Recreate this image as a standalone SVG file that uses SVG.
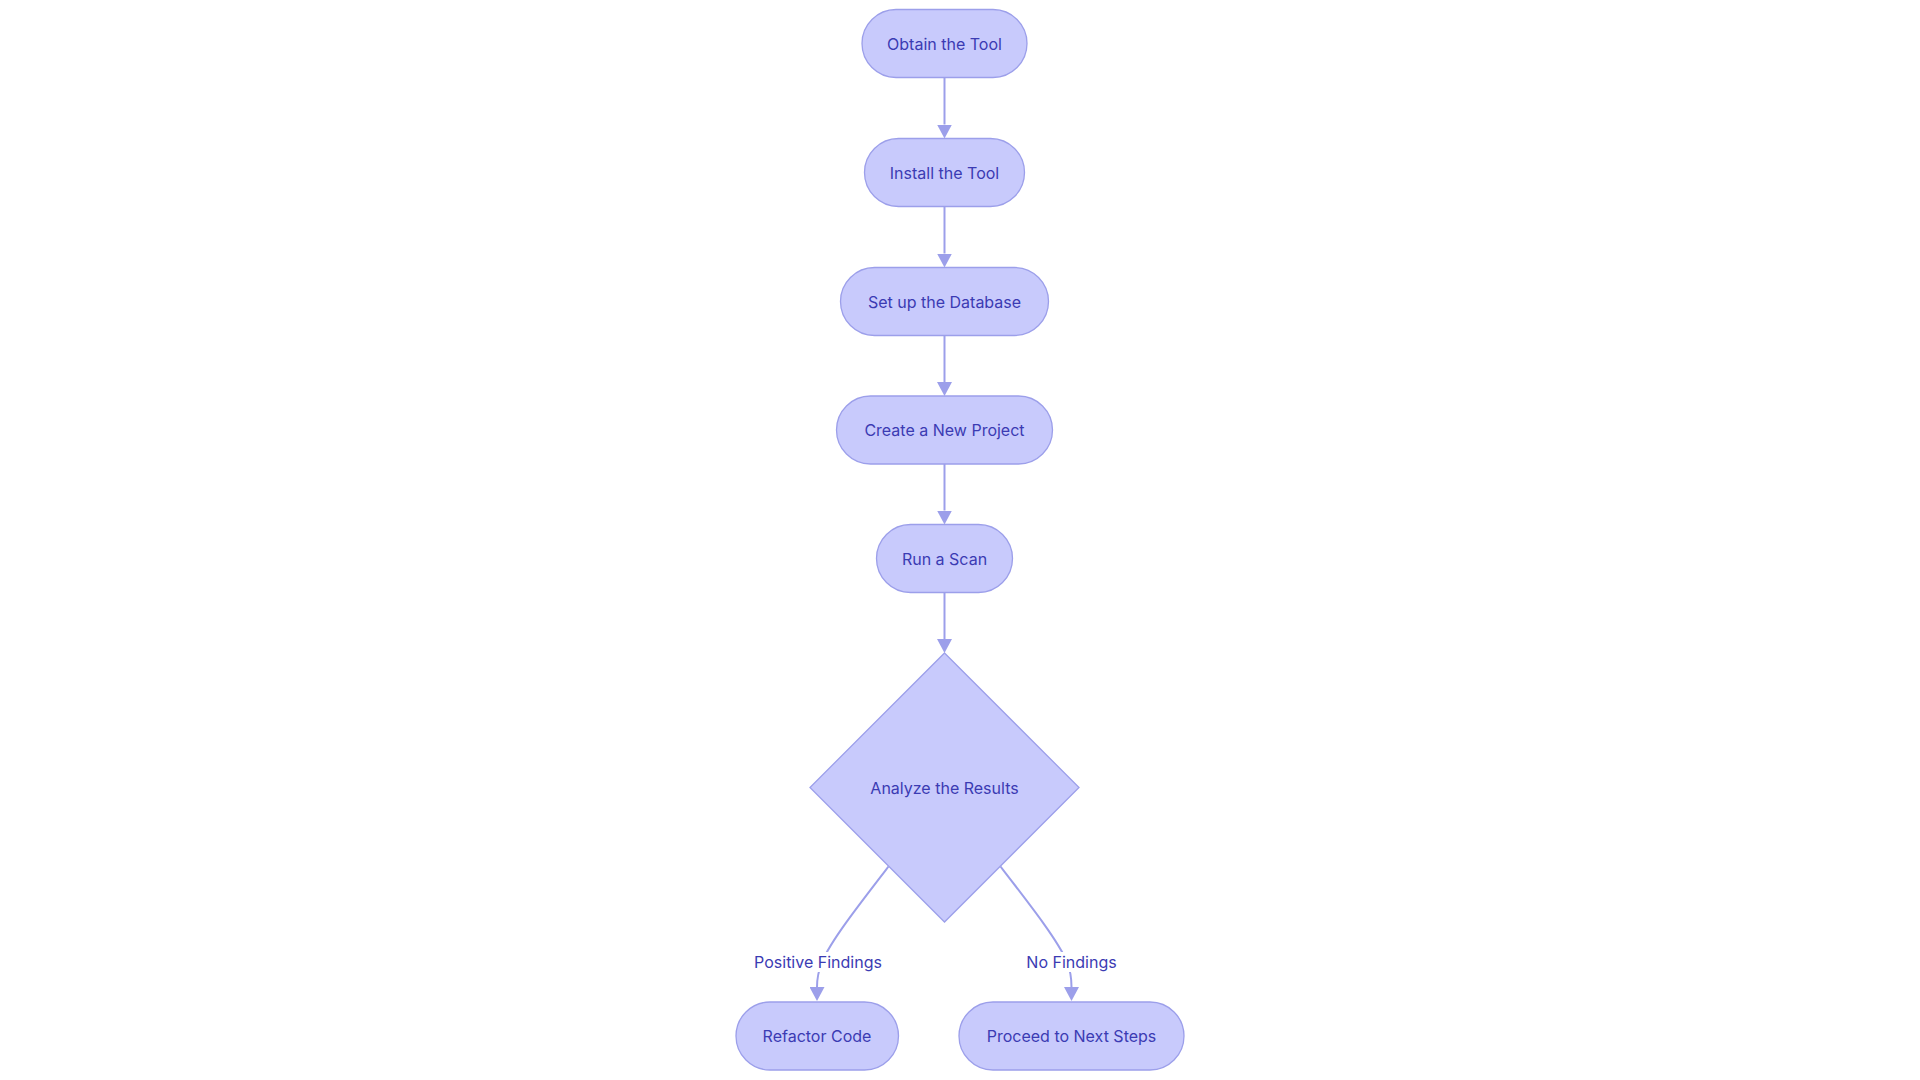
<svg xmlns="http://www.w3.org/2000/svg" width="1920" height="1080" viewBox="0 0 1920 1080">
<style>
.node{fill:#C8CAFC;stroke:#9C9FEA;stroke-width:1.3}
.lbl{font-family:Inter,"Noto Sans","Liberation Sans",sans-serif;font-size:16px;fill:#3B3BB3;text-anchor:middle;dominant-baseline:central}
.edge{fill:none;stroke:#9C9FEA;stroke-width:2}
.elbg{fill:#FFFFFF}
</style>
<defs>
<marker id="arr" viewBox="0 0 14 15" markerWidth="14" markerHeight="15" refX="0" refY="7.5" orient="auto" markerUnits="userSpaceOnUse">
<path d="M0,0 L14,7.5 L0,15 z" fill="#9C9FEA"/>
</marker>
</defs>
<rect width="1920" height="1080" fill="#FFFFFF"/>
<g id="connectors">
<path class="edge" d="M944.5,77.5 V124.5" marker-end="url(#arr)"/>
<path class="edge" d="M944.5,206.5 V253.5" marker-end="url(#arr)"/>
<path class="edge" d="M944.5,335.5 V382" marker-end="url(#arr)"/>
<path class="edge" d="M944.5,463.5 V510.5" marker-end="url(#arr)"/>
<path class="edge" d="M944.5,592.5 V639" marker-end="url(#arr)"/>
<path class="edge" d="M888.5,866.5 C858,906 830,942 822,962 C818,972 817,980 817,987" marker-end="url(#arr)"/>
<path class="edge" d="M1000.5,866.5 C1031,906 1059,942 1067,962 C1071,972 1071.5,980 1071.5,987" marker-end="url(#arr)"/>
<g id="label-positive">
<rect class="elbg" x="754" y="952" width="128" height="20"/>
<text class="lbl" x="818" y="962">Positive Findings</text>
</g>
<g id="label-nofindings">
<rect class="elbg" x="1027" y="952" width="89" height="20"/>
<text class="lbl" x="1071.5" y="962">No Findings</text>
</g>
</g>
<g id="obtain">
<rect class="node" x="862" y="9.5" width="165" height="68" rx="34" ry="34"/>
<text class="lbl" x="944.5" y="43.5">Obtain the Tool</text>
</g>
<g id="install">
<rect class="node" x="864.5" y="138.5" width="160" height="68" rx="34" ry="34"/>
<text class="lbl" x="944.5" y="172.5">Install the Tool</text>
</g>
<g id="database">
<rect class="node" x="840.5" y="267.5" width="208" height="68" rx="34" ry="34"/>
<text class="lbl" x="944.5" y="301.5">Set up the Database</text>
</g>
<g id="project">
<rect class="node" x="836.5" y="396" width="216" height="68" rx="34" ry="34"/>
<text class="lbl" x="944.5" y="430">Create a New Project</text>
</g>
<g id="scan">
<rect class="node" x="876.5" y="524.5" width="136" height="68" rx="34" ry="34"/>
<text class="lbl" x="944.5" y="558.5">Run a Scan</text>
</g>
<g id="analyze">
<polygon class="node" points="944.5,653 1079,787.5 944.5,922 810,787.5"/>
<text class="lbl" x="944.5" y="787.5">Analyze the Results</text>
</g>
<g id="refactor">
<rect class="node" x="736" y="1002" width="162.5" height="68" rx="34" ry="34"/>
<text class="lbl" x="817" y="1036">Refactor Code</text>
</g>
<g id="proceed">
<rect class="node" x="959" y="1002" width="225" height="68" rx="34" ry="34"/>
<text class="lbl" x="1071.5" y="1036">Proceed to Next Steps</text>
</g>
</svg>
